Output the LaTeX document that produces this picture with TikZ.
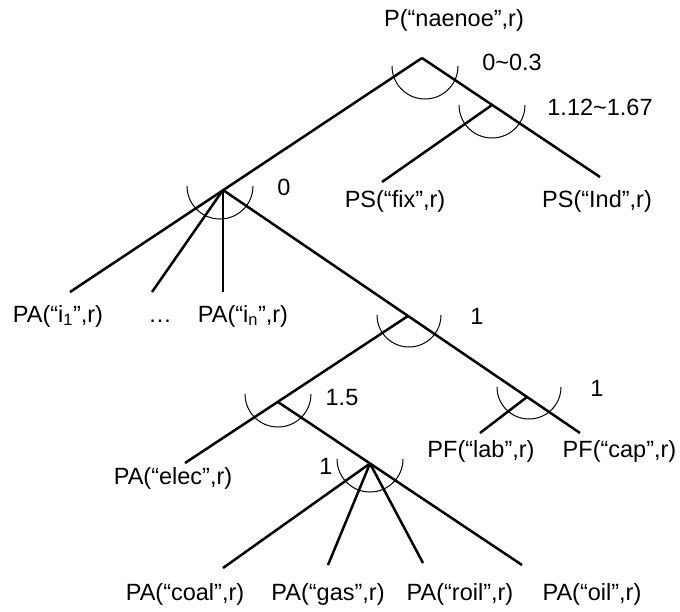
\documentclass[tikz,border=0pt]{standalone}
\usepackage{fontspec}
\setmainfont{Liberation Sans}
\begin{document}
\begin{tikzpicture}[x=1pt,y=-1pt,
  branch/.style={line width=2.5pt},
  arcline/.style={line width=1pt},
  lbl/.style={anchor=base,inner sep=0pt,font=\fontsize{23.5}{28}\selectfont}]
\useasboundingbox (0,0) rectangle (680,611);
% vertices
\coordinate (v1) at (422,58);
\coordinate (v2) at (223,190);
\coordinate (vr) at (492,105);
\coordinate (v3) at (408,316);
\coordinate (v4) at (527,397);
\coordinate (v5) at (278,402);
\coordinate (v6) at (370,463.5);
% free ends
\coordinate (efix) at (382,182);
\coordinate (eind) at (600,177);
\coordinate (ei1) at (70,292);
\coordinate (edots) at (152,292);
\coordinate (ein) at (223,292);
\coordinate (elab) at (480,433);
\coordinate (ecap) at (580,433);
\coordinate (eelec) at (185,463);
\coordinate (ecoal) at (223,568);
\coordinate (egas) at (328,565);
\coordinate (eroil) at (423,563);
\coordinate (eoil) at (522,565);
% branches
\draw[branch] (v1) -- (ei1);
\draw[branch] (v1) -- (eind);
\draw[branch] (vr) -- (efix);
\draw[branch] (v2) -- (edots);
\draw[branch] (v2) -- (ein);
\draw[branch] (v2) -- (ecap);
\draw[branch] (v4) -- (elab);
\draw[branch] (v3) -- (eelec);
\draw[branch] (v5) -- (eoil);
\draw[branch] (v6) -- (ecoal);
\draw[branch] (v6) -- (egas);
\draw[branch] (v6) -- (eroil);
% arcs
\draw[arcline] (392,66) arc[start angle=180,end angle=360,radius=33pt];
\draw[arcline] (459,105) arc[start angle=180,end angle=360,radius=33pt];
\draw[arcline] (187,186) arc[start angle=180,end angle=360,radius=33pt];
\draw[arcline] (377,315) arc[start angle=180,end angle=360,radius=32pt];
\draw[arcline] (497,387) arc[start angle=180,end angle=360,radius=32pt];
\draw[arcline] (245,394) arc[start angle=180,end angle=360,radius=33pt];
\draw[arcline] (337,459) arc[start angle=180,end angle=360,radius=33pt];
% labels
\node[lbl] (lp) at (454,26) {P(“naenoe”,r)};
\node[lbl] (l03) at (512,70) {0\char"007E 0.3};
\node[lbl] (l112) at (600,115) {1.12\char"007E 1.67};
\node[lbl] (lfix) at (395,207) {PS(“fix”,r)};
\node[lbl] (lind) at (597,207) {PS(“Ind”,r)};
\node[lbl] (l0) at (284,195) {0};
\node[lbl] (li1) at (58,322) {PA(“i\textsubscript{1}”,r)};
\node[lbl] (ldots) at (160,322) {…};
\node[lbl] (lin) at (243,322) {PA(“i\textsubscript{n}”,r)};
\node[lbl] (l1a) at (477,324) {1};
\node[lbl] (l15) at (342,405) {1.5};
\node[lbl] (l1b) at (597,396) {1};
\node[lbl] (llab) at (481,457) {PF(“lab”,r)};
\node[lbl] (lcap) at (619.5,457) {PF(“cap”,r)};
\node[lbl] (lelec) at (173,484) {PA(“elec”,r)};
\node[lbl] (l1c) at (326,474) {1};
\node[lbl] (lcoal) at (185,600) {PA(“coal”,r)};
\node[lbl] (lgas) at (328,600) {PA(“gas”,r)};
\node[lbl] (lroil) at (460,600) {PA(“roil”,r)};
\node[lbl] (loil) at (592,600) {PA(“oil”,r)};
\end{tikzpicture}
\end{document}
